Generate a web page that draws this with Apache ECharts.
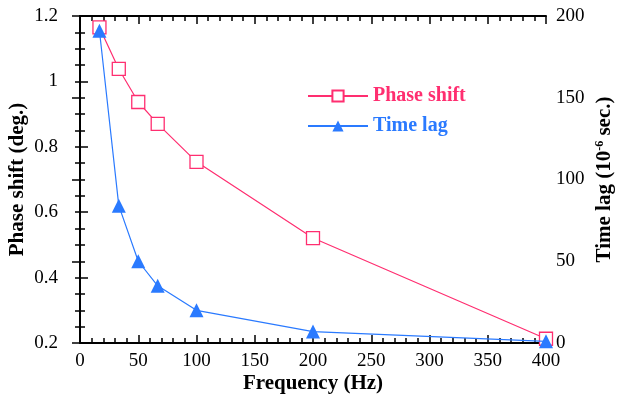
<!DOCTYPE html>
<html>
<head>
<meta charset="utf-8">
<script src="https://cdn.jsdelivr.net/npm/echarts@6/dist/echarts.min.js"></script>
<style>
  html, body { margin: 0; padding: 0; background: #fff; }
  #chart { width: 617px; height: 401px; }
</style>
</head>
<body>
<div id="chart"></div>
<script>
// values
const freq = [16.7, 33.3, 50, 66.7, 100, 200, 400];
const phaseShift = [1.165, 1.038, 0.937, 0.870, 0.754, 0.521, 0.213];
const timeLag = [191, 84, 50, 35, 20, 7, 1];

const pink = '#ff2e70';
const blue = '#2a7aff';
const serif = 'Liberation Serif';

const chart = echarts.init(document.getElementById('chart'));

const axisLine = { show: true, lineStyle: { color: '#000', width: 2 } };
const tick = { show: true, inside: true, length: 8, lineStyle: { color: '#000', width: 1.5 } };
const minor = (n) => ({ show: true, splitNumber: n, length: 5, lineStyle: { color: '#000', width: 1.5 } });
const label = { color: '#000', fontFamily: serif, fontSize: 19 };
const nameStyle = { color: '#000', fontFamily: serif, fontSize: 21, fontWeight: 'bold' };

const option = {
  animation: false,
  backgroundColor: '#fff',
  grid: { left: 80, right: 71, top: 16, bottom: 58, containLabel: false, outerBoundsMode: 'none' },
  legend: {
    orient: 'vertical',
    left: 302,
    top: 81,
    itemWidth: 60,
    itemHeight: 14,
    itemGap: 10,
    data: [
      { name: 'Phase shift', textStyle: { color: pink } },
      { name: 'Time lag', textStyle: { color: blue } }
    ],
    textStyle: { fontFamily: serif, fontSize: 20, fontWeight: 'bold' }
  },
  xAxis: [
    {
      type: 'value', min: 0, max: 400, interval: 50,
      name: 'Frequency (Hz)', nameLocation: 'middle', nameGap: 30, nameMoveOverlap: false,
      nameTextStyle: nameStyle,
      axisLine: axisLine, axisTick: tick, minorTick: minor(5),
      axisLabel: Object.assign({ margin: 9 }, label), splitLine: { show: false }
    },
    {
      type: 'value', min: 0, max: 400, interval: 50, position: 'top',
      axisLine: axisLine, axisTick: tick, minorTick: minor(5),
      axisLabel: { show: false }, splitLine: { show: false }
    }
  ],
  yAxis: [
    {
      type: 'value', min: 0.2, max: 1.2, interval: 0.2,
      name: 'Phase shift (deg.)', nameLocation: 'middle', nameGap: 52, nameRotate: 90, nameMoveOverlap: false,
      nameTextStyle: nameStyle,
      axisLine: axisLine, axisTick: tick, minorTick: minor(4),
      axisLabel: Object.assign({ margin: 22, formatter: v => +v.toFixed(1) + '' }, label),
      splitLine: { show: false }
    },
    {
      type: 'value', min: 0, max: 200, interval: 50, position: 'right',
      name: '{n|Time lag (10}{s|-6}{n| sec.)}', nameLocation: 'middle', nameGap: 48, nameRotate: 90, nameMoveOverlap: false,
      nameTextStyle: Object.assign({}, nameStyle, {
        rich: {
          n: nameStyle,
          s: { color: '#000', fontFamily: serif, fontSize: 12, fontWeight: 'bold', padding: [0, 0, 10, 0] }
        }
      }),
      axisLine: axisLine, axisTick: tick, minorTick: minor(5),
      axisLabel: Object.assign({ margin: 10 }, label), splitLine: { show: false }
    }
  ],
  series: [
    {
      name: 'Phase shift', type: 'line', xAxisIndex: 0, yAxisIndex: 0,
      data: freq.map((f, i) => [f, phaseShift[i]]),
      symbol: 'rect', symbolSize: 13,
      lineStyle: { color: pink, width: 1.2 },
      itemStyle: { color: '#fff', borderColor: pink, borderWidth: 1.3 },
      z: 2
    },
    {
      name: 'Time lag', type: 'line', xAxisIndex: 0, yAxisIndex: 1,
      data: freq.map((f, i) => [f, timeLag[i]]),
      symbol: 'triangle', symbolSize: 14,
      lineStyle: { color: blue, width: 1.2 },
      itemStyle: { color: blue },
      z: 3
    }
  ]
};

chart.setOption(option);
</script>
</body>
</html>
